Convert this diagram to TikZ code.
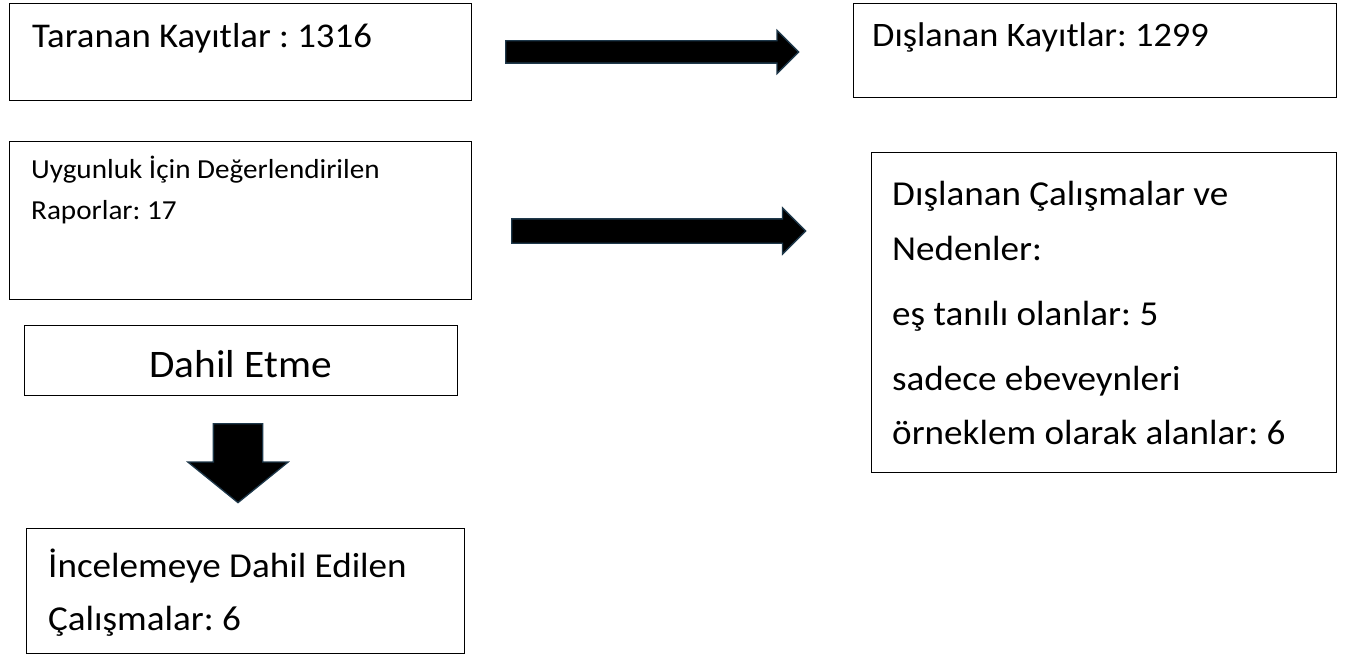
\documentclass[tikz,border=0pt]{standalone}
\usepackage{fontspec}
\setmainfont{Carlito}[FakeStretch=1.06]
\usepackage{tikz}
\usetikzlibrary{shapes.arrows}
\usepackage{xcolor}
\definecolor{arrowrim}{RGB}{30,56,74}

\tikzset{
  box/.style={draw=black,line width=1.4pt,inner sep=0pt,anchor=north west},
  boxtext/.style={inner sep=0pt,anchor=base west,align=flush left},
  blockarrow/.style={single arrow,fill=black,draw=arrowrim,line width=1.3pt,
    inner sep=#1,anchor=tail},
}

\begin{document}
\frenchspacing
\begin{tikzpicture}[x=1pt,y=-1pt]
  \useasboundingbox (0,0) rectangle (1346,655);
  % boxes
  \node[box,minimum width=462,minimum height=97] (taranan) at (9,3) {};
  \node[box,minimum width=483,minimum height=94] (dislanan) at (853,3) {};
  \node[box,minimum width=462,minimum height=158] (uygunluk) at (9,141) {};
  \node[box,minimum width=465,minimum height=320] (nedenler) at (871,152) {};
  \node[box,minimum width=433,minimum height=70] (dahil) at (24,325) {};
  \node[box,minimum width=438,minimum height=125] (incelenen) at (26,528) {};
  % texts
  \node[boxtext,font=\fontsize{34.7}{40}\selectfont] (t1) at (32,48) {Taranan Kayıtlar : 1316};
  \node[boxtext,font=\fontsize{34.3}{40}\selectfont] (t2) at (872,47) {Dışlanan Kayıtlar: 1299};
  \node[boxtext,text width=420,font=\fontsize{27.5}{40}\selectfont] (t3) at (31,179)
    {Uygunluk İçin Değerlendirilen\\Raporlar: 17};
  \node[boxtext,text width=440,font=\fontsize{35}{55}\selectfont] (t4) at (892,205)
    {Dışlanan Çalışmalar ve\\Nedenler:\\[10pt]eş tanılı olanlar: 5\\[10pt]sadece ebeveynleri\\örneklem olarak alanlar: 6};
  \node[inner sep=0pt,anchor=base,font=\fontsize{39}{40}\selectfont] (t5) at (240.5,377) {Dahil Etme};
  \node[boxtext,text width=420,font=\fontsize{35}{53}\selectfont] (t6) at (48,577)
    {İncelemeye Dahil Edilen\\Çalışmalar: 6};
  % arrows
  \node[blockarrow=10.5,minimum height=293,single arrow head extend=10.5] (ok1) at (505,52) {};
  \node[blockarrow=11.5,minimum height=294,single arrow head extend=11] (ok2) at (511,231) {};
  \node[blockarrow=24,minimum height=79,single arrow head extend=25.5,
    single arrow tip angle=102,rotate=-90] (ok3) at (238,423) {};
\end{tikzpicture}
\end{document}
